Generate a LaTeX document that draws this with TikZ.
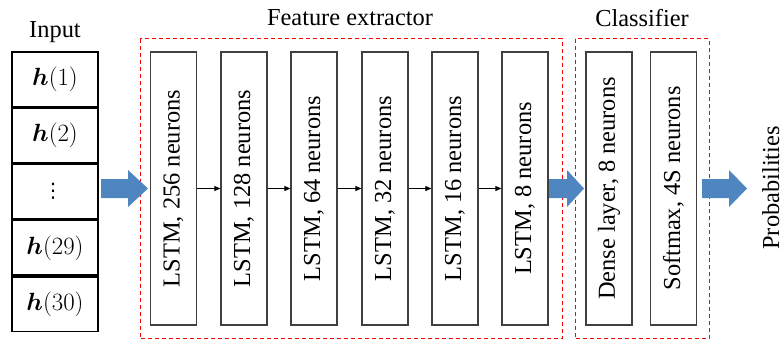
\documentclass[tikz,border=0pt]{standalone}
\usepackage{amsmath}
\usepackage{fontspec}
\setmainfont{Liberation Serif}
\newfontfamily\dejavu{DejaVu Sans}
\usetikzlibrary{arrows.meta}
\definecolor{arrowblue}{RGB}{79,134,192}
\definecolor{boxgray}{RGB}{64,64,64}
\begin{document}
\begin{tikzpicture}[x=1pt,y=-1pt,
  every node/.style={font=\fontsize{24.4}{27}\selectfont},
  layer/.style={draw=boxgray, line width=1.3pt, minimum width=46pt, minimum height=273pt, inner sep=0pt},
  rot/.style={rotate=90, inner sep=0pt},
  cell/.style={draw=black, line width=1.6pt, minimum width=86pt, minimum height=54.6pt, inner sep=0pt},
  link/.style={-{Triangle[length=6pt,width=5pt]}, line width=0.8pt, black},
  group/.style={draw=red, dashed, dash pattern=on 4pt off 3pt, line width=0.9pt},
  barrow/.style={fill=arrowblue, draw=none},
  title/.style={inner sep=0pt}]
\useasboundingbox (0,0) rectangle (784,341);

% Input column
\node[title] (inlab) at (55,32) {Input};
\node[cell] (c1) at (55,79.3) {$\boldsymbol{h}(1)$};
\node[cell, anchor=north] (c2) at (c1.south) {$\boldsymbol{h}(2)$};
\node[cell, anchor=north] (c3) at (c2.south) {};
\node[cell, anchor=north] (c4) at (c3.south) {$\boldsymbol{h}(29)$};
\node[cell, anchor=north] (c5) at (c4.south) {$\boldsymbol{h}(30)$};
\node[inner sep=0pt, font=\dejavu\fontsize{20}{22}\selectfont] (dots) at ([xshift=-2pt]c3.center) {⋮};

% group boxes
\draw[group] (140,38.5) rectangle (562,338.5);
\draw[group] (575,38.5) rectangle (709,338.5);
\node[title] (fe) at (350,18) {Feature extractor};
\node[title] (cl) at (642,18) {Classifier};

% layers
\node[layer] (l1) at (173.5,188.5) {};
\node[layer] (l2) at (244,188.5) {};
\node[layer] (l3) at (314,188.5) {};
\node[layer] (l4) at (385,188.5) {};
\node[layer] (l5) at (455,188.5) {};
\node[layer] (l6) at (525,188.5) {};
\node[layer] (d1) at (609,188.5) {};
\node[layer] (s1) at (673.5,188.5) {};

\node[rot] (t1) at (l1) {LSTM, 256 neurons};
\node[rot] (t2) at (l2) {LSTM, 128 neurons};
\node[rot] (t3) at (l3) {LSTM, 64 neurons};
\node[rot] (t4) at (l4) {LSTM, 32 neurons};
\node[rot] (t5) at (l5) {LSTM, 16 neurons};
\node[rot] (t6) at (l6) {LSTM, 8 neurons};
\node[rot] (t7) at (d1) {Dense layer, 8 neurons};
\node[rot] (t8) at (s1) {Softmax, 4S neurons};

\draw[link] (l1.east) -- (l2.west);
\draw[link] (l2.east) -- (l3.west);
\draw[link] (l3.east) -- (l4.west);
\draw[link] (l4.east) -- (l5.west);
\draw[link] (l5.east) -- (l6.west);

% block arrows
\fill[barrow] (101,179) -- (128,179) -- (128,170) -- (148,188.5) -- (128,207) -- (128,198) -- (101,198) -- cycle;
\fill[barrow] (549,179) -- (567,179) -- (567,170) -- (584,188.5) -- (567,207) -- (567,198) -- (549,198) -- cycle;
\fill[barrow] (702,179) -- (729,179) -- (729,170) -- (747,188.5) -- (729,207) -- (729,198) -- (702,198) -- cycle;

\node[rot, anchor=north] (prob) at (762,188) {Probabilities};
\end{tikzpicture}
\end{document}
